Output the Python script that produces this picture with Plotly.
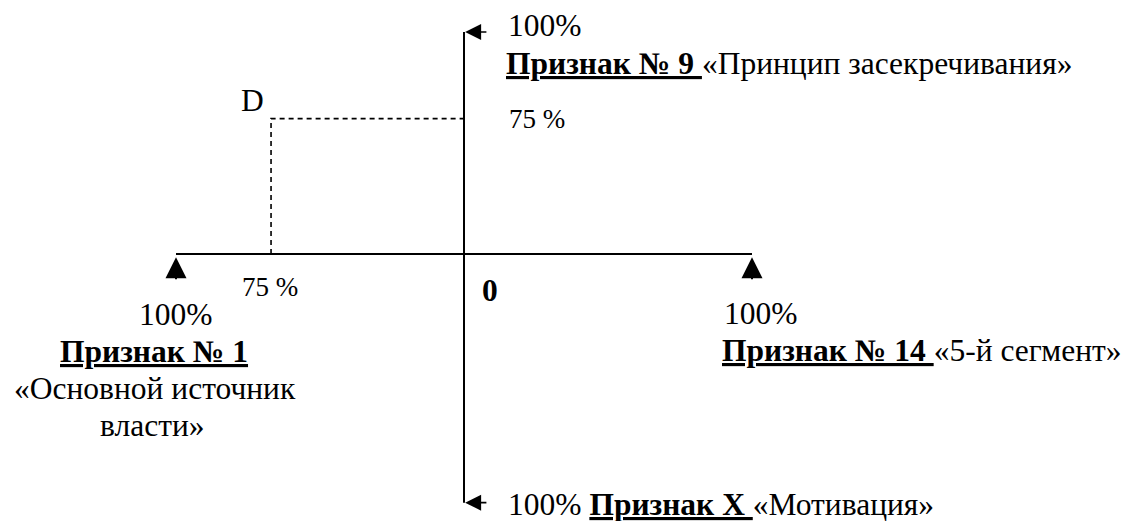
import plotly.graph_objects as go

# ---- data (drawing units: percent of axis half-length) ----
x_axis_ends = [-100, 100]          # horizontal axis: Признак № 1 (left) .. Признак № 14 (right)
y_axis_ends = [100, -112]          # vertical axis: Признак № 9 (top) .. Признак X (bottom)
point_D = (-67, 61)                # drawn position of point D (labelled 75 % / 75 %)
label_D_x = "75 %"
label_D_y = "75 %"
end_label = "100%"
features = {
    "top": ("Признак № 9", "«Принцип засекречивания»"),
    "left": ("Признак № 1", "«Основной источник", "власти»"),
    "right": ("Признак № 14", "«5-й сегмент»"),
    "bottom": ("Признак X", "«Мотивация»"),
}

W, H = 1131, 521
OFF = 8                    # page body margin compensation
CX, CY = 464 - OFF, 254 - OFF   # figure pixel of origin
SX, SY = 2.88, 2.22        # pixels per unit

FONT = "Liberation Serif, Times New Roman, Times, serif"
FS = 31.5
FS_SMALL = 27

fig = go.Figure()

line_style = dict(color="black", width=2)
fig.add_trace(go.Scatter(x=x_axis_ends, y=[0, 0], mode="lines", line=line_style, hoverinfo="skip"))
fig.add_trace(go.Scatter(x=[0, 0], y=y_axis_ends, mode="lines", line=line_style, hoverinfo="skip"))
fig.add_trace(go.Scatter(x=[point_D[0], point_D[0], 0], y=[0, point_D[1], point_D[1]], mode="lines",
                         line=dict(color="black", width=1.6, dash="5px,4px"), hoverinfo="skip"))

def arrow(x, y, ax, ay, w, s):
    fig.add_annotation(x=x, y=y, ax=ax, ay=ay, xref="x", yref="y", axref="x", ayref="y",
                       text="", showarrow=True, arrowhead=2, arrowsize=s, arrowwidth=w,
                       arrowcolor="black")

# up arrows below horizontal axis ends
arrow(x_axis_ends[0], -1.5, x_axis_ends[0], -12, 2, 2.1)
arrow(x_axis_ends[1], -1.5, x_axis_ends[1], -12, 2, 2.1)
# left arrows at vertical axis ends
arrow(0.4, y_axis_ends[0], 8.3, y_axis_ends[0], 1.6, 2.0)
arrow(0.4, y_axis_ends[1], 8.3, y_axis_ends[1], 1.6, 2.0)

def px(x):
    return (x - OFF) / W

def py(y):
    return 1 - (y - OFF) / H

def text(t, x, y, anchor="left", size=FS):
    fig.add_annotation(x=px(x), y=py(y), xref="paper", yref="paper", text=t, showarrow=False,
                       xanchor=anchor, yanchor="middle", borderpad=0,
                       font=dict(family=FONT, size=size, color="black"))

text(end_label, 507, 25)
text(f"<b><u>{features['top'][0]} </u></b>{features['top'][1]}", 505, 63)
text(label_D_y, 508, 119, size=FS_SMALL)
text("D", 240, 100)
text(label_D_x, 241, 287, size=FS_SMALL)
text("<b>0</b>", 481, 290)
text(end_label, 176, 314, anchor="center")
text(f"<b><u>{features['left'][0]}</u></b>", 154, 351, anchor="center")
text(features['left'][1], 155, 388, anchor="center")
text(features['left'][2], 152, 425, anchor="center")
text(end_label, 723, 313)
text(f"<b><u>{features['right'][0]} </u></b>{features['right'][1]}", 721, 350)
text(f"{end_label} <b><u>{features['bottom'][0]} </u></b>{features['bottom'][1]}", 507, 504)

fig.update_layout(
    width=W, height=H, margin=dict(l=0, r=0, t=0, b=0),
    paper_bgcolor="white", plot_bgcolor="white", showlegend=False,
    xaxis=dict(range=[(0 - CX) / SX, (W - CX) / SX], visible=False, fixedrange=True),
    yaxis=dict(range=[(CY - H) / SY, CY / SY], visible=False, fixedrange=True),
)

fig.write_html("out.html")
